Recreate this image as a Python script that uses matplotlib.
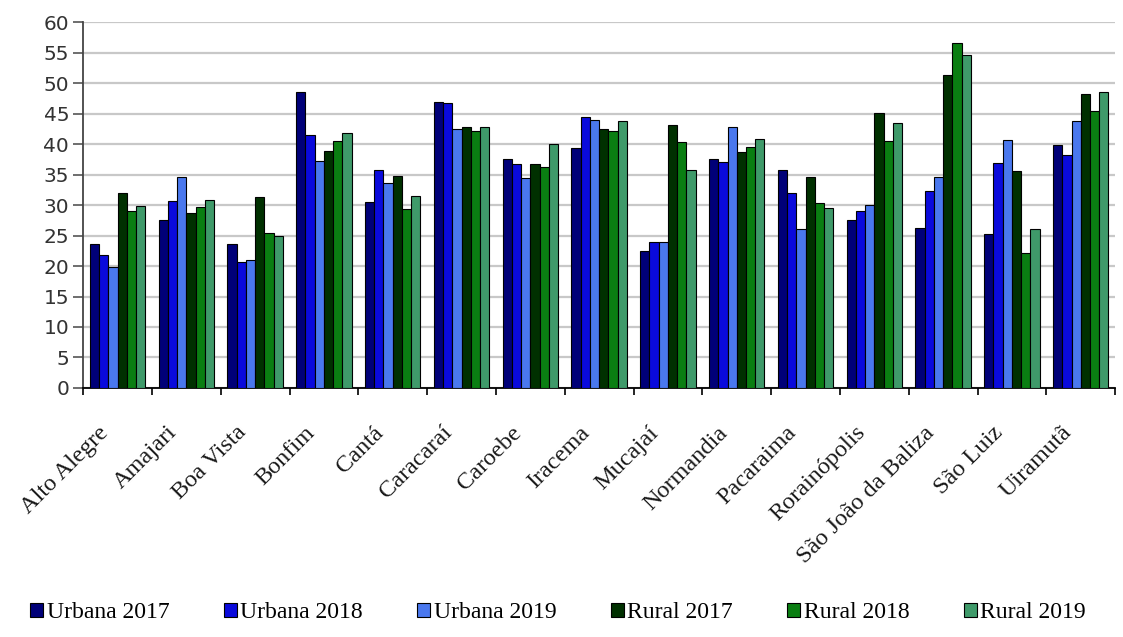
import numpy as np
import matplotlib
matplotlib.use("Agg")
import matplotlib.pyplot as plt

municipios = ["Alto Alegre", "Amajari", "Boa Vista", "Bonfim", "Cantá", "Caracaraí",
              "Caroebe", "Iracema", "Mucajaí", "Normandia", "Pacaraima", "Rorainópolis",
              "São João da Baliza", "São Luiz", "Uiramutã"]

urbana_2017 = [23.7, 27.6, 23.6, 48.5, 30.5, 47.0, 37.5, 39.4, 22.5, 37.5, 35.8, 27.5, 26.3, 25.3, 39.8]
urbana_2018 = [21.8, 30.7, 20.7, 41.5, 35.7, 46.7, 36.8, 44.4, 24.0, 37.0, 32.0, 29.1, 32.3, 36.9, 38.3]
urbana_2019 = [19.8, 34.6, 21.0, 37.3, 33.7, 42.5, 34.5, 43.9, 23.9, 42.9, 26.0, 30.0, 34.6, 40.7, 43.8]
rural_2017 = [32.0, 28.7, 31.3, 38.8, 34.7, 42.8, 36.8, 42.5, 43.2, 38.7, 34.6, 45.1, 51.3, 35.6, 48.3]
rural_2018 = [29.0, 29.7, 25.5, 40.5, 29.3, 42.2, 36.2, 42.2, 40.3, 39.5, 30.3, 40.5, 56.6, 22.1, 45.4]
rural_2019 = [29.8, 30.9, 25.0, 41.8, 31.5, 42.9, 40.0, 43.8, 35.8, 40.9, 29.6, 43.5, 54.7, 26.0, 48.6]

series = [urbana_2017, urbana_2018, urbana_2019, rural_2017, rural_2018, rural_2019]
nomes = ["Urbana 2017", "Urbana 2018", "Urbana 2019", "Rural 2017", "Rural 2018", "Rural 2019"]
cores = ["#000078", "#0a0adc", "#4a78ee", "#003000", "#0a7e12", "#3f9a6a"]

fig = plt.figure(figsize=(11.23, 6.37), dpi=100)
ax = fig.add_axes([0.074, 0.391, 0.919, 0.574])

x = np.arange(len(municipios))
w = 0.134
for i, (vals, nome, cor) in enumerate(zip(series, nomes, cores)):
    ax.bar(x + (i - 2.5) * w, vals, width=w, color=cor, edgecolor="black",
           linewidth=0.8, label=nome, zorder=3)

ax.set_ylim(0, 60)
ax.set_yticks(np.arange(0, 61, 5))
ax.set_xlim(-0.5, len(municipios) - 0.5)
ax.yaxis.grid(True, color="#c8c8c8", linewidth=1.6, zorder=0)
ax.set_axisbelow(True)

# rotulos um pouco a esquerda do centro, marcas nas divisas
ax.set_xticks(x - 0.18)
ax.set_xticklabels(municipios, rotation=45, ha="right", va="center", rotation_mode="anchor",
                   family="Liberation Serif", fontsize=17.5, color="#1a1a1a")
ax.set_xticks(np.arange(-0.5, len(municipios), 1), minor=True)
ax.tick_params(axis="x", which="major", length=0, pad=30)
ax.tick_params(axis="x", which="minor", length=5, width=1.2, color="black")
ax.tick_params(axis="y", length=7, width=1.2, color="#555555", labelsize=14.5,
               labelcolor="#333333", pad=3)

for s in ["top", "right"]:
    ax.spines[s].set_visible(False)
ax.spines["left"].set_color("#444444")
ax.spines["left"].set_linewidth(1.3)
ax.spines["bottom"].set_color("black")
ax.spines["bottom"].set_linewidth(1.3)

fig.legend(loc="center", bbox_to_anchor=(0.497, 1 - 613 / 637), ncol=6,
           frameon=False, prop={"family": "Liberation Serif", "size": 17},
           handlelength=0.55, handleheight=0.55, handletextpad=0.15,
           columnspacing=2.3)

plt.savefig("out.png", dpi=100)
